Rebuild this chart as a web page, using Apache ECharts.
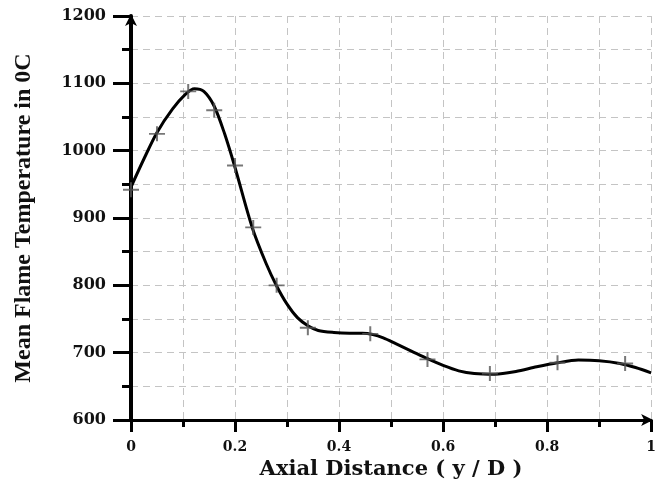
<!DOCTYPE html>
<html>
<head>
<meta charset="utf-8">
<script src="https://cdn.jsdelivr.net/npm/echarts@6/dist/echarts.min.js"></script>
<style>html,body{margin:0;padding:0;background:#fff;}#c{width:659px;height:488px;}</style>
</head>
<body>
<div id="c"></div>
<script>
// curve
const curveX = [0, 0.025, 0.05, 0.08, 0.105, 0.122, 0.14, 0.16, 0.18, 0.2, 0.233, 0.26, 0.28, 0.30, 0.32, 0.34, 0.36, 0.39, 0.42, 0.445, 0.465, 0.485, 0.51, 0.54, 0.57, 0.60, 0.63, 0.66, 0.70, 0.74, 0.78, 0.82, 0.86, 0.90, 0.94, 0.97, 1.0];
const curveY = [946, 988, 1027, 1062, 1084, 1092, 1088, 1066, 1025, 975, 886, 832, 799, 772, 752, 740, 733, 730, 729, 729, 727, 722, 713, 702, 691, 681, 673, 669, 668, 672, 679, 685, 689, 688, 684, 678, 670];
// marked data points
const markX = [0, 0.05, 0.11, 0.16, 0.2, 0.235, 0.28, 0.34, 0.46, 0.57, 0.69, 0.82, 0.95];
const markY = [942, 1025, 1088, 1060, 978, 886, 800, 737, 728, 690, 669, 685, 684];
const xTitle = 'Axial Distance ( y / D )';
const yTitle = 'Mean Flame Temperature in 0C';

const chart = echarts.init(document.getElementById('c'), null, {renderer: 'canvas'});
const gridLine = {show: true, lineStyle: {color: '#c4c4c4', type: [7, 5], width: 1}};
chart.setOption({
  backgroundColor: '#fff',
  animation: false,
  grid: {left: 131, right: 4, top: 16, bottom: 68},
  xAxis: {
    type: 'value', min: 0, max: 1, interval: 0.2,
    name: xTitle, nameLocation: 'middle', nameGap: 36,
    nameTextStyle: {fontFamily: 'DejaVu Serif', fontWeight: 'bold', fontSize: 21, color: '#111'},
    axisLine: {show: true, symbol: ['none', 'arrow'], symbolSize: [9, 12], symbolOffset: [0, 2], lineStyle: {color: '#000', width: 3}},
    axisTick: {show: true, inside: false, length: 12, lineStyle: {color: '#000', width: 3}},
    minorTick: {show: true, splitNumber: 2, length: 7, lineStyle: {color: '#000', width: 3}},
    splitLine: gridLine,
    minorSplitLine: gridLine,
    axisLabel: {margin: 20, fontFamily: 'DejaVu Serif', fontWeight: 'bold', fontSize: 14, color: '#111',
      formatter: v => (v === 0 ? '0' : (v === 1 ? '1' : v.toFixed(1)))}
  },
  yAxis: {
    type: 'value', min: 600, max: 1200, interval: 100,
    name: yTitle, nameLocation: 'middle', nameGap: 95, nameRotate: 90,
    nameTextStyle: {fontFamily: 'Liberation Serif', fontWeight: 'bold', fontSize: 24, color: '#111'},
    axisLine: {show: true, symbol: ['none', 'arrow'], symbolSize: [9, 12], symbolOffset: [-12, 2], lineStyle: {color: '#000', width: 4}},
    axisTick: {show: true, inside: false, length: 18, lineStyle: {color: '#000', width: 3}},
    minorTick: {show: true, splitNumber: 2, length: 9, lineStyle: {color: '#000', width: 3}},
    splitLine: gridLine,
    minorSplitLine: gridLine,
    axisLabel: {margin: 25, fontFamily: 'DejaVu Serif', fontWeight: 'bold', fontSize: 16, color: '#111',
      formatter: v => String(v)}
  },
  series: [
    {
      type: 'line', smooth: 0.3, showSymbol: false,
      data: curveX.map((x, i) => [x, curveY[i]]),
      lineStyle: {color: '#000', width: 3},
      z: 3
    },
    {
      type: 'scatter',
      data: markX.map((x, i) => [x, markY[i]]),
      symbol: 'path://M-1,-8 h2 v16 h-2 z M-8,-1 h16 v2 h-16 z',
      symbolSize: [16, 15],
      itemStyle: {color: '#555'},
      z: 4
    }
  ]
});
</script>
</body>
</html>
